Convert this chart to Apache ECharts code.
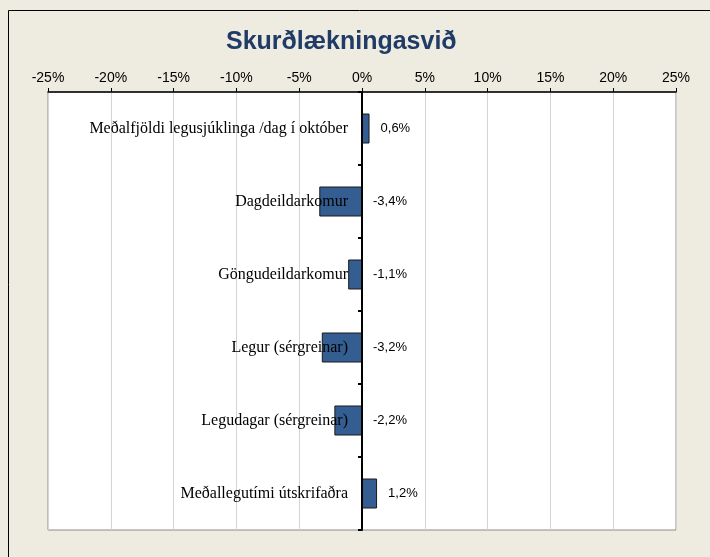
<!DOCTYPE html>
<html>
<head>
<meta charset="utf-8">
<script src="https://cdn.jsdelivr.net/npm/echarts@6/dist/echarts.min.js"></script>
<style>
  html, body { margin: 0; padding: 0; background: #eeebe0; }
  #main { width: 710px; height: 557px; }
</style>
</head>
<body>
<div id="main"></div>
<script>
  // flokkar (ofan frá og niður)
  const categories = [
    'Meðalfjöldi legusjúklinga /dag í október',
    'Dagdeildarkomur',
    'Göngudeildarkomur',
    'Legur (sérgreinar)',
    'Legudagar (sérgreinar)',
    'Meðallegutími útskrifaðra'
  ]
  // breyting í %
  const changes = [0.6, -3.4, -1.1, -3.2, -2.2, 1.2]
  const axisMin = -25
  const axisMax = 25
  const axisStep = 5

  const chart = echarts.init(document.getElementById('main'))
  chart.setOption({
    backgroundColor: '#eeebe0',
    animation: false,
    /* ytri rammi */
    graphic: [
      {
        type: 'rect',
        shape: { x: 8.5, y: 10.5, width: 760, height: 600 },
        style: { fill: 'none', stroke: '#000', lineWidth: 1 },
        silent: true
      }
    ],
    title: {
      text: 'Skurðlækningasvið',
      left: 221,
      top: 25,
      textStyle: {
        fontFamily: 'Liberation Sans, Arial',
        fontSize: 25,
        fontWeight: 'bold',
        color: '#1f3b66'
      }
    },
    grid: {
      left: 48,
      right: 34,
      top: 92,
      bottom: 27,
      containLabel: false,
      outerBoundsMode: 'none',
      show: true,
      backgroundColor: '#fff',
      borderColor: '#8c8c8c',
      borderWidth: 1
    },
    xAxis: {
      type: 'value',
      position: 'top',
      min: axisMin,
      max: axisMax,
      interval: axisStep,
      axisLine: { show: true, lineStyle: { color: '#000', width: 1.5 } },
      axisTick: { show: true, length: 4, lineStyle: { color: '#000', width: 1 } },
      splitLine: { show: true, lineStyle: { color: '#d4d4d4', width: 1 } },
      axisLabel: {
        formatter: '{value}%',
        margin: 7,
        fontFamily: 'Liberation Sans, Arial',
        fontSize: 14,
        color: '#000'
      }
    },
    yAxis: {
      type: 'category',
      inverse: true,
      data: categories,
      z: 5,
      axisLine: { show: true, onZero: true, lineStyle: { color: '#000', width: 2 } },
      axisTick: { show: true, length: 4, lineStyle: { color: '#000', width: 2 } },
      splitLine: { show: false },
      axisLabel: { show: false }
    },
    series: [
      {
        type: 'bar',
        data: changes,
        barWidth: 30,
        itemStyle: {
          color: '#345d91',
          borderColor: '#1a1a1a',
          borderWidth: 1
        },
        label: {
          show: true,
          position: 'right',
          distance: 11,
          formatter: p => p.value.toFixed(1).replace('.', ',') + '%',
          fontFamily: 'Liberation Sans, Arial',
          fontSize: 13,
          color: '#000'
        }
      },
      /* flokkaheiti við núll-ásinn, ofan á súlunum */
      {
        type: 'custom',
        z: 10,
        silent: true,
        data: categories.map((c, i) => [0, i]),
        encode: { x: 0, y: 1 },
        renderItem: (params, api) => {
          const pt = api.coord([0, api.value(1)])
          return {
            type: 'text',
            x: pt[0] - 14,
            y: pt[1],
            style: {
              text: categories[api.value(1)],
              align: 'right',
              verticalAlign: 'middle',
              fontFamily: 'Liberation Serif, Times New Roman',
              fontSize: 16,
              fill: '#000'
            }
          }
        }
      }
    ]
  })
</script>
</body>
</html>
